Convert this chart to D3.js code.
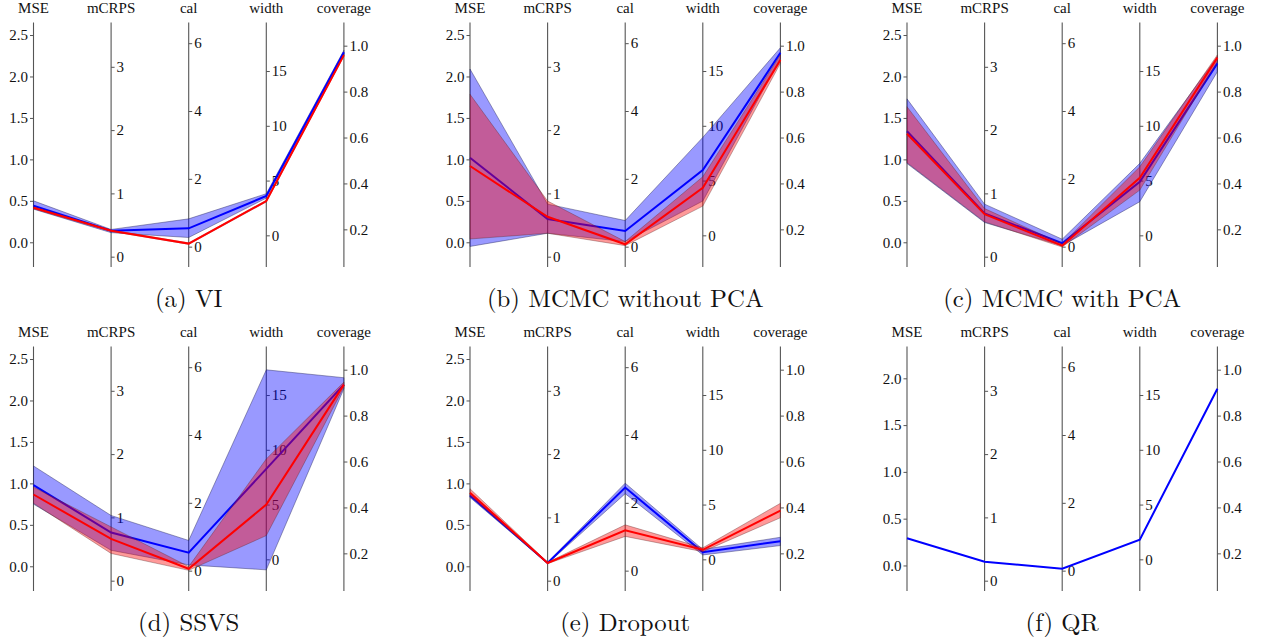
<!DOCTYPE html>
<html>
<head>
<meta charset="utf-8">
<script src="https://cdn.jsdelivr.net/npm/d3@7"></script>
<style>
  html, body { margin: 0; padding: 0; background: #fff; }
  svg { display: block; }
</style>
</head>
<body>
<svg id="chart" width="1261" height="642"></svg>
<script>
// ---- data ----
const metrics = ["MSE", "mCRPS", "cal", "width", "coverage"];

const methods = ["VI", "MCMC without PCA", "MCMC with PCA", "SSVS", "Dropout", "QR"];
const captions = ["(a) VI", "(b) MCMC without PCA", "(c) MCMC with PCA", "(d) SSVS", "(e) Dropout", "(f) QR"];

// axis domains (per metric)
const domainMSE = [-0.298, 2.651];
const domainMSE_QR = [-0.273, 2.34];
const domainMCRPS = [-0.163, 3.70];
const domainCal = [-0.6, 6.61];
const domainWidth = [-2.89, 19.43];
const domainCoverage = [0.036, 1.101];

// tick values
const ticksMSE = [0, 0.5, 1.0, 1.5, 2.0, 2.5];
const ticksMSE_QR = [0, 0.5, 1.0, 1.5, 2.0];
const ticksMCRPS = [0, 1, 2, 3];
const ticksCal = [0, 2, 4, 6];
const ticksWidth = [0, 5, 10, 15];
const ticksCoverage = [0.2, 0.4, 0.6, 0.8, 1.0];

// blue series (mean, lower, upper), order: MSE, mCRPS, cal, width, coverage
const blueMean = [
  [0.44, 0.41, 0.54, 3.59, 0.971],
  [1.02, 0.595, 0.46, 5.96, 0.969],
  [1.34, 0.685, 0.10, 4.89, 0.923],
  [0.98, 0.76, 0.53, 8.26, 0.935],
  [0.854, 0.28, 2.45, 0.65, 0.253],
  [0.29, 0.30, 0.056, 1.8, 0.917]
];
const blueLo = [
  [0.40, 0.38, 0.27, 3.40, 0.960],
  [-0.05, 0.37, 0.15, 3.13, 0.945],
  [0.95, 0.54, 0.03, 3.07, 0.887],
  [0.75, 0.48, 0.17, -0.96, 0.917],
  [0.83, 0.27, 2.27, 0.40, 0.234],
  null
];
const blueHi = [
  [0.50, 0.43, 0.82, 3.80, 0.980],
  [2.09, 0.83, 0.77, 8.94, 0.991],
  [1.73, 0.83, 0.22, 6.57, 0.952],
  [1.21, 1.03, 0.89, 17.3, 0.965],
  [0.88, 0.29, 2.58, 0.90, 0.270],
  null
];
// red series
const redMean = [
  [0.417, 0.41, 0.09, 3.13, 0.959],
  [0.92, 0.63, 0.07, 4.34, 0.938],
  [1.31, 0.67, 0.03, 5.26, 0.948],
  [0.866, 0.66, 0.056, 5.0, 0.935],
  [0.887, 0.28, 1.19, 0.87, 0.386],
  null
];
const redLo = [
  [0.405, 0.40, 0.07, 3.05, 0.955],
  [0.04, 0.37, 0.03, 2.67, 0.923],
  [0.96, 0.55, -0.01, 4.13, 0.931],
  [0.76, 0.43, 0.01, 2.17, 0.924],
  [0.85, 0.27, 1.01, 0.70, 0.355],
  null
];
const redHi = [
  [0.43, 0.42, 0.11, 3.20, 0.963],
  [1.785, 0.88, 0.15, 5.35, 0.960],
  [1.635, 0.76, 0.08, 6.26, 0.960],
  [0.955, 0.85, 0.12, 9.17, 0.946],
  [0.935, 0.29, 1.35, 1.05, 0.418],
  null
];

// ---- layout ----
const FONT = "Liberation Serif";
const CAPFONT = "Latin Modern Roman";
const svg = d3.select("#chart");
const colX = [33.5, 470, 907];
const axisGap = 77.6;
const rowTop = [22.5, 346.5];
const axisLen = 244.5;

function domainsFor(i) {
  return [i === 5 ? domainMSE_QR : domainMSE, domainMCRPS, domainCal, domainWidth, domainCoverage];
}
function ticksFor(i) {
  return [i === 5 ? ticksMSE_QR : ticksMSE, ticksMCRPS, ticksCal, ticksWidth, ticksCoverage];
}
const formats = [d3.format(".1f"), d3.format("d"), d3.format("d"), d3.format("d"), d3.format(".1f")];

methods.forEach((m, i) => {
  const col = i % 3, row = Math.floor(i / 3);
  const top = rowTop[row], bottom = top + axisLen;
  const x = d3.scalePoint().domain(metrics).range([colX[col], colX[col] + 4 * axisGap]);
  const doms = domainsFor(i);
  const ys = doms.map(d => d3.scaleLinear().domain(d).range([bottom, top]));
  const g = svg.append("g");

  // axes
  const tks = ticksFor(i);
  metrics.forEach((k, j) => {
    const ax = (j === 0 ? d3.axisLeft(ys[j]) : d3.axisRight(ys[j]))
      .tickValues(tks[j]).tickFormat(formats[j]).tickSizeOuter(0).tickSizeInner(3.5).tickPadding(2);
    const ag = g.append("g").attr("transform", `translate(${x(k)},0)`).call(ax)
      .attr("font-family", FONT).attr("font-size", 15);
    ag.select(".domain").attr("stroke", "#555").attr("stroke-width", 1.1)
      .attr("d", `M0,${top}V${bottom}`);
    ag.selectAll(".tick line").attr("stroke", "#555");
    ag.selectAll(".tick text").attr("fill", "#111").attr("font-family", FONT);
    g.append("text").attr("x", x(k)).attr("y", top - 9.5).attr("text-anchor", "middle")
      .attr("font-family", FONT).attr("font-size", 15).attr("fill", "#111").text(k);
  });

  const line = d3.line().x((d, j) => x(metrics[j])).y((d, j) => ys[j](d));
  const area = d3.area().x((d, j) => x(metrics[j]))
    .y0((d, j) => ys[j](d[0])).y1((d, j) => ys[j](d[1]));

  const plot = g.append("g");
  if (blueLo[i]) {
    plot.append("path").datum(blueLo[i].map((v, j) => [v, blueHi[i][j]]))
      .attr("d", area).attr("fill", "rgba(0,0,255,0.4)")
      .attr("stroke", "rgba(40,40,90,0.55)").attr("stroke-width", 0.8);
  }
  plot.append("path").datum(blueMean[i]).attr("d", line)
    .attr("fill", "none").attr("stroke", "#0000ff").attr("stroke-width", 2);
  if (redLo[i]) {
    plot.append("path").datum(redLo[i].map((v, j) => [v, redHi[i][j]]))
      .attr("d", area).attr("fill", "rgba(255,0,0,0.4)")
      .attr("stroke", "rgba(90,40,40,0.45)").attr("stroke-width", 0.8);
  }
  if (redMean[i]) {
    plot.append("path").datum(redMean[i]).attr("d", line)
      .attr("fill", "none").attr("stroke", "#ff0000").attr("stroke-width", 2);
  }

  // caption
  g.append("text").attr("x", x("cal")).attr("y", bottom + 40).attr("text-anchor", "middle")
    .attr("font-family", CAPFONT).attr("font-size", 24.8).attr("fill", "#111").text(captions[i]);
});
</script>
</body>
</html>
